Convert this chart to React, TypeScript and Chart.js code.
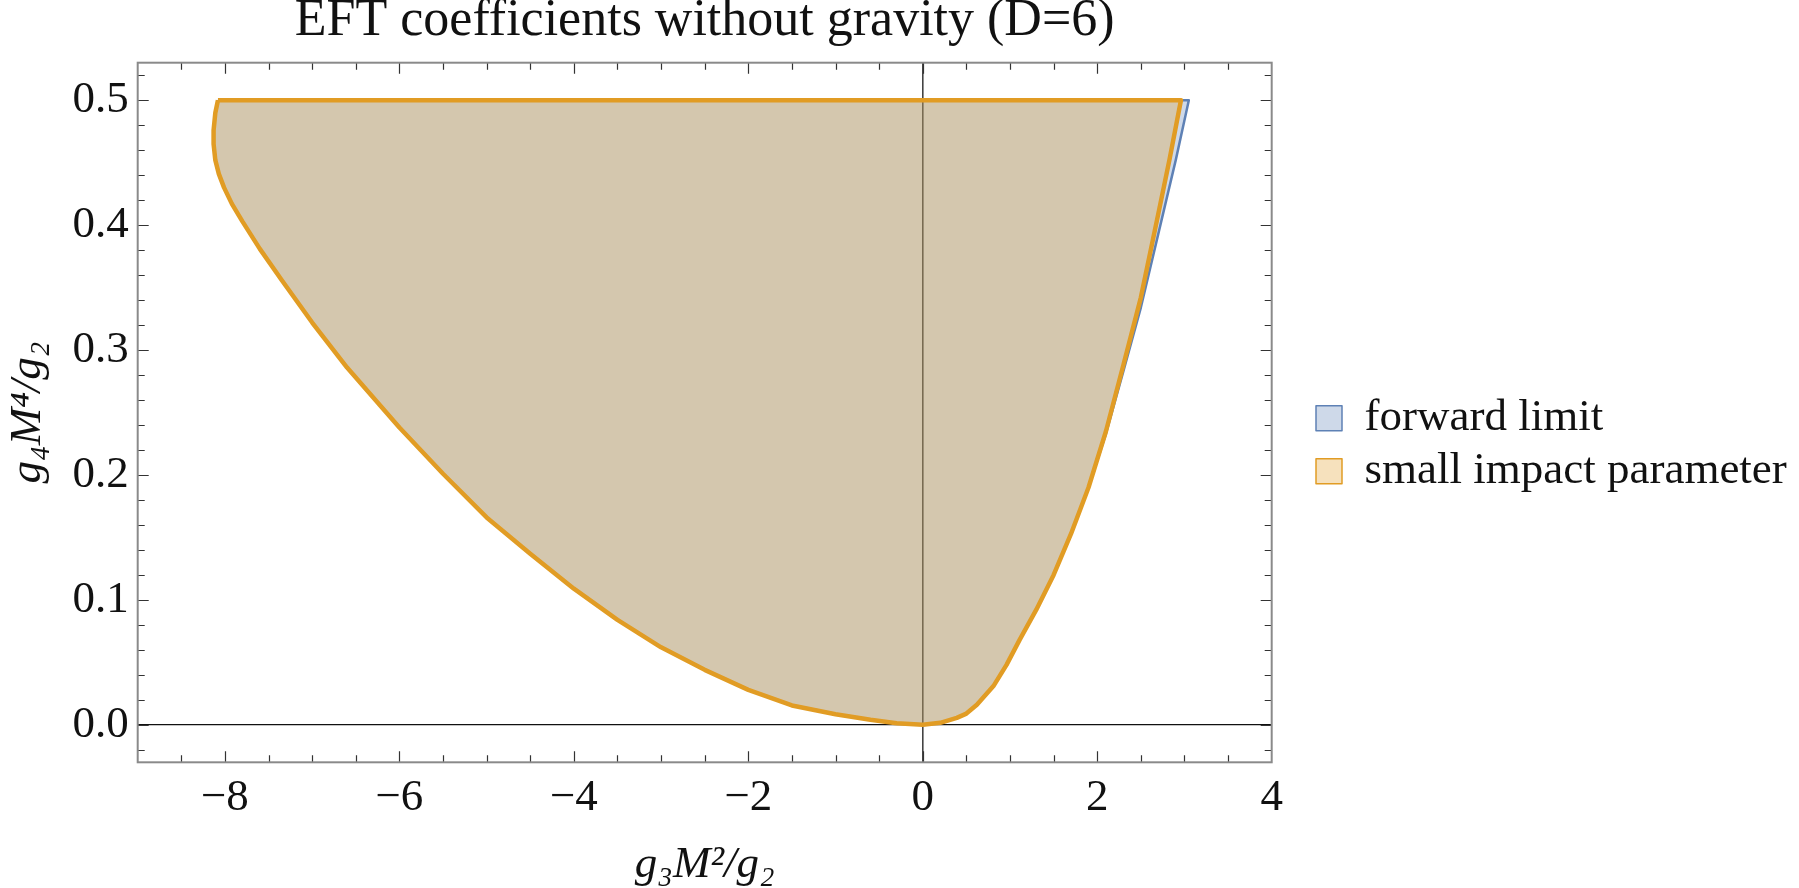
import React, { useEffect, useRef } from "react";
import { Chart, registerables } from "chart.js";

Chart.register(...registerables);

// ---- data ----
const seriesNames = ["forward limit", "small impact parameter"];

// forward limit boundary (closed loop)
const forwardX = [-8.08, -8.11, -8.13, -8.13, -8.11, -8.07, -8.01, -7.92, -7.8, -7.6, -7.35, -7.0, -6.6, -6.0, -5.5, -5.0, -4.5, -4.0, -3.5, -3.0, -2.5, -2.0, -1.5, -1.0, -0.6, -0.3, 0, 0.2, 0.39, 0.5, 0.62, 0.81, 0.96, 1.11, 1.3, 1.5, 1.7, 1.9, 2.1, 2.3, 2.5, 2.7, 2.9, 3.05, -8.08];
const forwardY = [0.5, 0.49, 0.476, 0.465, 0.452, 0.441, 0.43, 0.417, 0.403, 0.381, 0.356, 0.322, 0.286, 0.238, 0.201, 0.166, 0.137, 0.109, 0.084, 0.062, 0.044, 0.028, 0.0155, 0.0085, 0.004, 0.0012, 0, 0.0016, 0.0056, 0.009, 0.016, 0.031, 0.048, 0.068, 0.092, 0.12, 0.153, 0.19, 0.233, 0.283, 0.334, 0.393, 0.452, 0.5, 0.5];

// small impact parameter boundary (closed loop)
const impactX = [-8.08, -8.11, -8.13, -8.13, -8.11, -8.07, -8.01, -7.92, -7.8, -7.6, -7.35, -7.0, -6.6, -6.0, -5.5, -5.0, -4.5, -4.0, -3.5, -3.0, -2.5, -2.0, -1.5, -1.0, -0.6, -0.3, 0, 0.2, 0.39, 0.5, 0.62, 0.81, 0.96, 1.11, 1.3, 1.5, 1.7, 1.9, 2.1, 2.3, 2.5, 2.7, 2.83, 2.96, -8.08];
const impactY = [0.5, 0.49, 0.476, 0.465, 0.452, 0.441, 0.43, 0.417, 0.403, 0.381, 0.356, 0.322, 0.286, 0.238, 0.201, 0.166, 0.137, 0.109, 0.084, 0.062, 0.044, 0.028, 0.0155, 0.0085, 0.004, 0.0012, 0, 0.0016, 0.0056, 0.009, 0.016, 0.031, 0.048, 0.068, 0.092, 0.12, 0.153, 0.19, 0.235, 0.288, 0.342, 0.409, 0.453, 0.5, 0.5];

const xMajorValues = [-8, -6, -4, -2, 0, 2, 4];
const xTickLabels = ["−8", "−6", "−4", "−2", "0", "2", "4"];
const yMajorValues = [0, 0.1, 0.2, 0.3, 0.4, 0.5];
const yTickLabels = ["0.0", "0.1", "0.2", "0.3", "0.4", "0.5"];

const titleText = "EFT coefficients without gravity (D=6)";
const xTitle = "g₃M²/g₂";
const yTitle = "g₄M⁴/g₂";

const FAMILY = "'Liberation Serif', 'Times New Roman', serif";
const TEXT = "#111";

const isMajor = (list: number[], v: number) => list.some((m) => Math.abs(m - v) < 1e-6);

const frameTicks = {
  id: "frameTicks",
  afterDraw(chart: any) {
    const { ctx, chartArea: a, scales } = chart;
    ctx.save();
    ctx.strokeStyle = "#333";
    ctx.lineWidth = 1.2;
    const xs = scales.x;
    for (const t of xs.ticks) {
      const v = t.value;
      if (v <= xs.min + 1e-9 || v >= xs.max - 1e-9) continue;
      const p = Math.round(xs.getPixelForValue(v)) + 0.5;
      const len = isMajor(xMajorValues, v) ? 11 : 7;
      ctx.beginPath();
      ctx.moveTo(p, a.bottom);
      ctx.lineTo(p, a.bottom - len);
      ctx.moveTo(p, a.top);
      ctx.lineTo(p, a.top + len);
      ctx.stroke();
    }
    const ys = scales.y;
    for (const t of ys.ticks) {
      const v = t.value;
      if (v <= ys.min + 1e-9 || v >= ys.max - 1e-9) continue;
      const p = Math.round(ys.getPixelForValue(v)) + 0.5;
      const len = isMajor(yMajorValues, v) ? 11 : 7;
      ctx.beginPath();
      ctx.moveTo(a.left, p);
      ctx.lineTo(a.left + len, p);
      ctx.moveTo(a.right, p);
      ctx.lineTo(a.right - len, p);
      ctx.stroke();
    }
    ctx.strokeStyle = "#8a8a8a";
    ctx.lineWidth = 2;
    ctx.strokeRect(a.left, a.top, a.right - a.left, a.bottom - a.top);
    ctx.restore();
  },
};

const legendPlace = {
  id: "legendPlace",
  beforeLayout(chart: any) {
    const lg = chart.legend;
    if (lg && !lg.__patched) {
      const orig = lg.fit.bind(lg);
      lg.fit = () => {
        orig();
        lg.width = 527.3;
      };
      lg.__patched = true;
    }
  },
  afterLayout(chart: any) {
    const lg = chart.legend;
    if (!lg) return;
    const a = chart.chartArea;
    const w = lg.width;
    const h = lg.height;
    lg.left = a.right + 36.3;
    lg.right = lg.left + w;
    lg.top = a.top + 325;
    lg.bottom = lg.top + h;
  },
};

export default function App() {
  const ref = useRef<HTMLCanvasElement | null>(null);

  useEffect(() => {
    document.body.style.margin = "0";
    document.body.style.overflow = "hidden";
    const canvas = ref.current;
    if (!canvas) return;

    const chart = new Chart(canvas, {
      type: "line",
      data: {
        datasets: [
          {
            label: seriesNames[0],
            data: forwardX.map((x, i) => ({ x, y: forwardY[i] })),
            borderColor: "rgb(94,129,181)",
            backgroundColor: "rgba(94,129,181,0.3)",
            borderWidth: 2.5,
            fill: "shape",
            pointRadius: 0,
            tension: 0,
            borderJoinStyle: "round",
            order: 1,
          },
          {
            label: seriesNames[1],
            data: impactX.map((x, i) => ({ x, y: impactY[i] })),
            borderColor: "rgb(225,156,36)",
            backgroundColor: "rgba(225,156,36,0.3)",
            borderWidth: 4.5,
            fill: "shape",
            pointRadius: 0,
            tension: 0,
            borderJoinStyle: "round",
            order: 0,
          },
        ],
      },
      options: {
        responsive: false,
        animation: false,
        events: [],
        layout: { padding: 0 },
        scales: {
          x: {
            type: "linear",
            min: -9,
            max: 4,
            z: 1,
            border: { display: false },
            grid: {
              drawTicks: false,
              lineWidth: 1.6,
              color: (c: any) => (c.tick && Math.abs(c.tick.value) < 1e-9 ? "#444" : "rgba(0,0,0,0)"),
            },
            ticks: {
              stepSize: 0.5,
              autoSkip: false,
              maxRotation: 0,
              padding: 9,
              color: TEXT,
              font: { family: FAMILY, size: 45 },
              callback: (value: any) => {
                const v = Number(value);
                const i = xMajorValues.findIndex((m) => Math.abs(m - v) < 1e-6);
                return i >= 0 ? xTickLabels[i] : "";
              },
            },
            title: {
              display: true,
              text: xTitle,
              color: TEXT,
              font: { family: FAMILY, size: 45, style: "italic", lineHeight: 1 },
              padding: { top: 0, bottom: 0 },
            },
            afterFit: (s: any) => {
              s.height = 125.7;
            },
          },
          y: {
            type: "linear",
            min: -0.03,
            max: 0.53,
            z: 1,
            border: { display: false },
            grid: {
              drawTicks: false,
              lineWidth: 1.3,
              color: (c: any) => (c.tick && Math.abs(c.tick.value) < 1e-9 ? "#111" : "rgba(0,0,0,0)"),
            },
            afterBuildTicks: (s: any) => {
              const t: { value: number }[] = [];
              for (let k = -1; k <= 26; k++) t.push({ value: Math.round(k * 2) / 100 });
              s.ticks = t;
            },
            ticks: {
              autoSkip: false,
              padding: 9,
              color: TEXT,
              font: { family: FAMILY, size: 45 },
              callback: (value: any) => {
                const v = Number(value);
                const i = yMajorValues.findIndex((m) => Math.abs(m - v) < 1e-6);
                return i >= 0 ? yTickLabels[i] : "";
              },
            },
            title: {
              display: true,
              text: yTitle,
              color: TEXT,
              font: { family: FAMILY, size: 45, style: "italic", lineHeight: 1 },
              padding: { top: 6, bottom: 0 },
            },
            afterFit: (s: any) => {
              s.width = 137.7;
            },
          },
        },
        plugins: {
          tooltip: { enabled: false },
          title: {
            display: true,
            text: titleText,
            fullSize: false,
            color: TEXT,
            font: { family: FAMILY, size: 52, weight: "normal", lineHeight: 0.802 },
            padding: { top: 0, bottom: 21 },
          },
          legend: {
            display: true,
            position: "right",
            align: "start",
            labels: {
              color: TEXT,
              font: { family: FAMILY, size: 45 },
              boxWidth: 26,
              boxHeight: 25,
              padding: 8,
              sort: (a: any, b: any) => a.datasetIndex - b.datasetIndex,
              generateLabels: (ch: any) =>
                (Chart.defaults.plugins.legend.labels.generateLabels as any)(ch).map((l: any) => ({
                  ...l,
                  lineWidth: 1.5,
                })),
            },
          },
        },
      } as any,
      plugins: [frameTicks, legendPlace],
    });

    return () => chart.destroy();
  }, []);

  return (
    <div style={{ position: "fixed", left: 0, top: 0, width: "1799px", height: "888px", background: "#fff" }}>
      <canvas ref={ref} width={1799} height={888} style={{ display: "block" }} />
    </div>
  );
}
